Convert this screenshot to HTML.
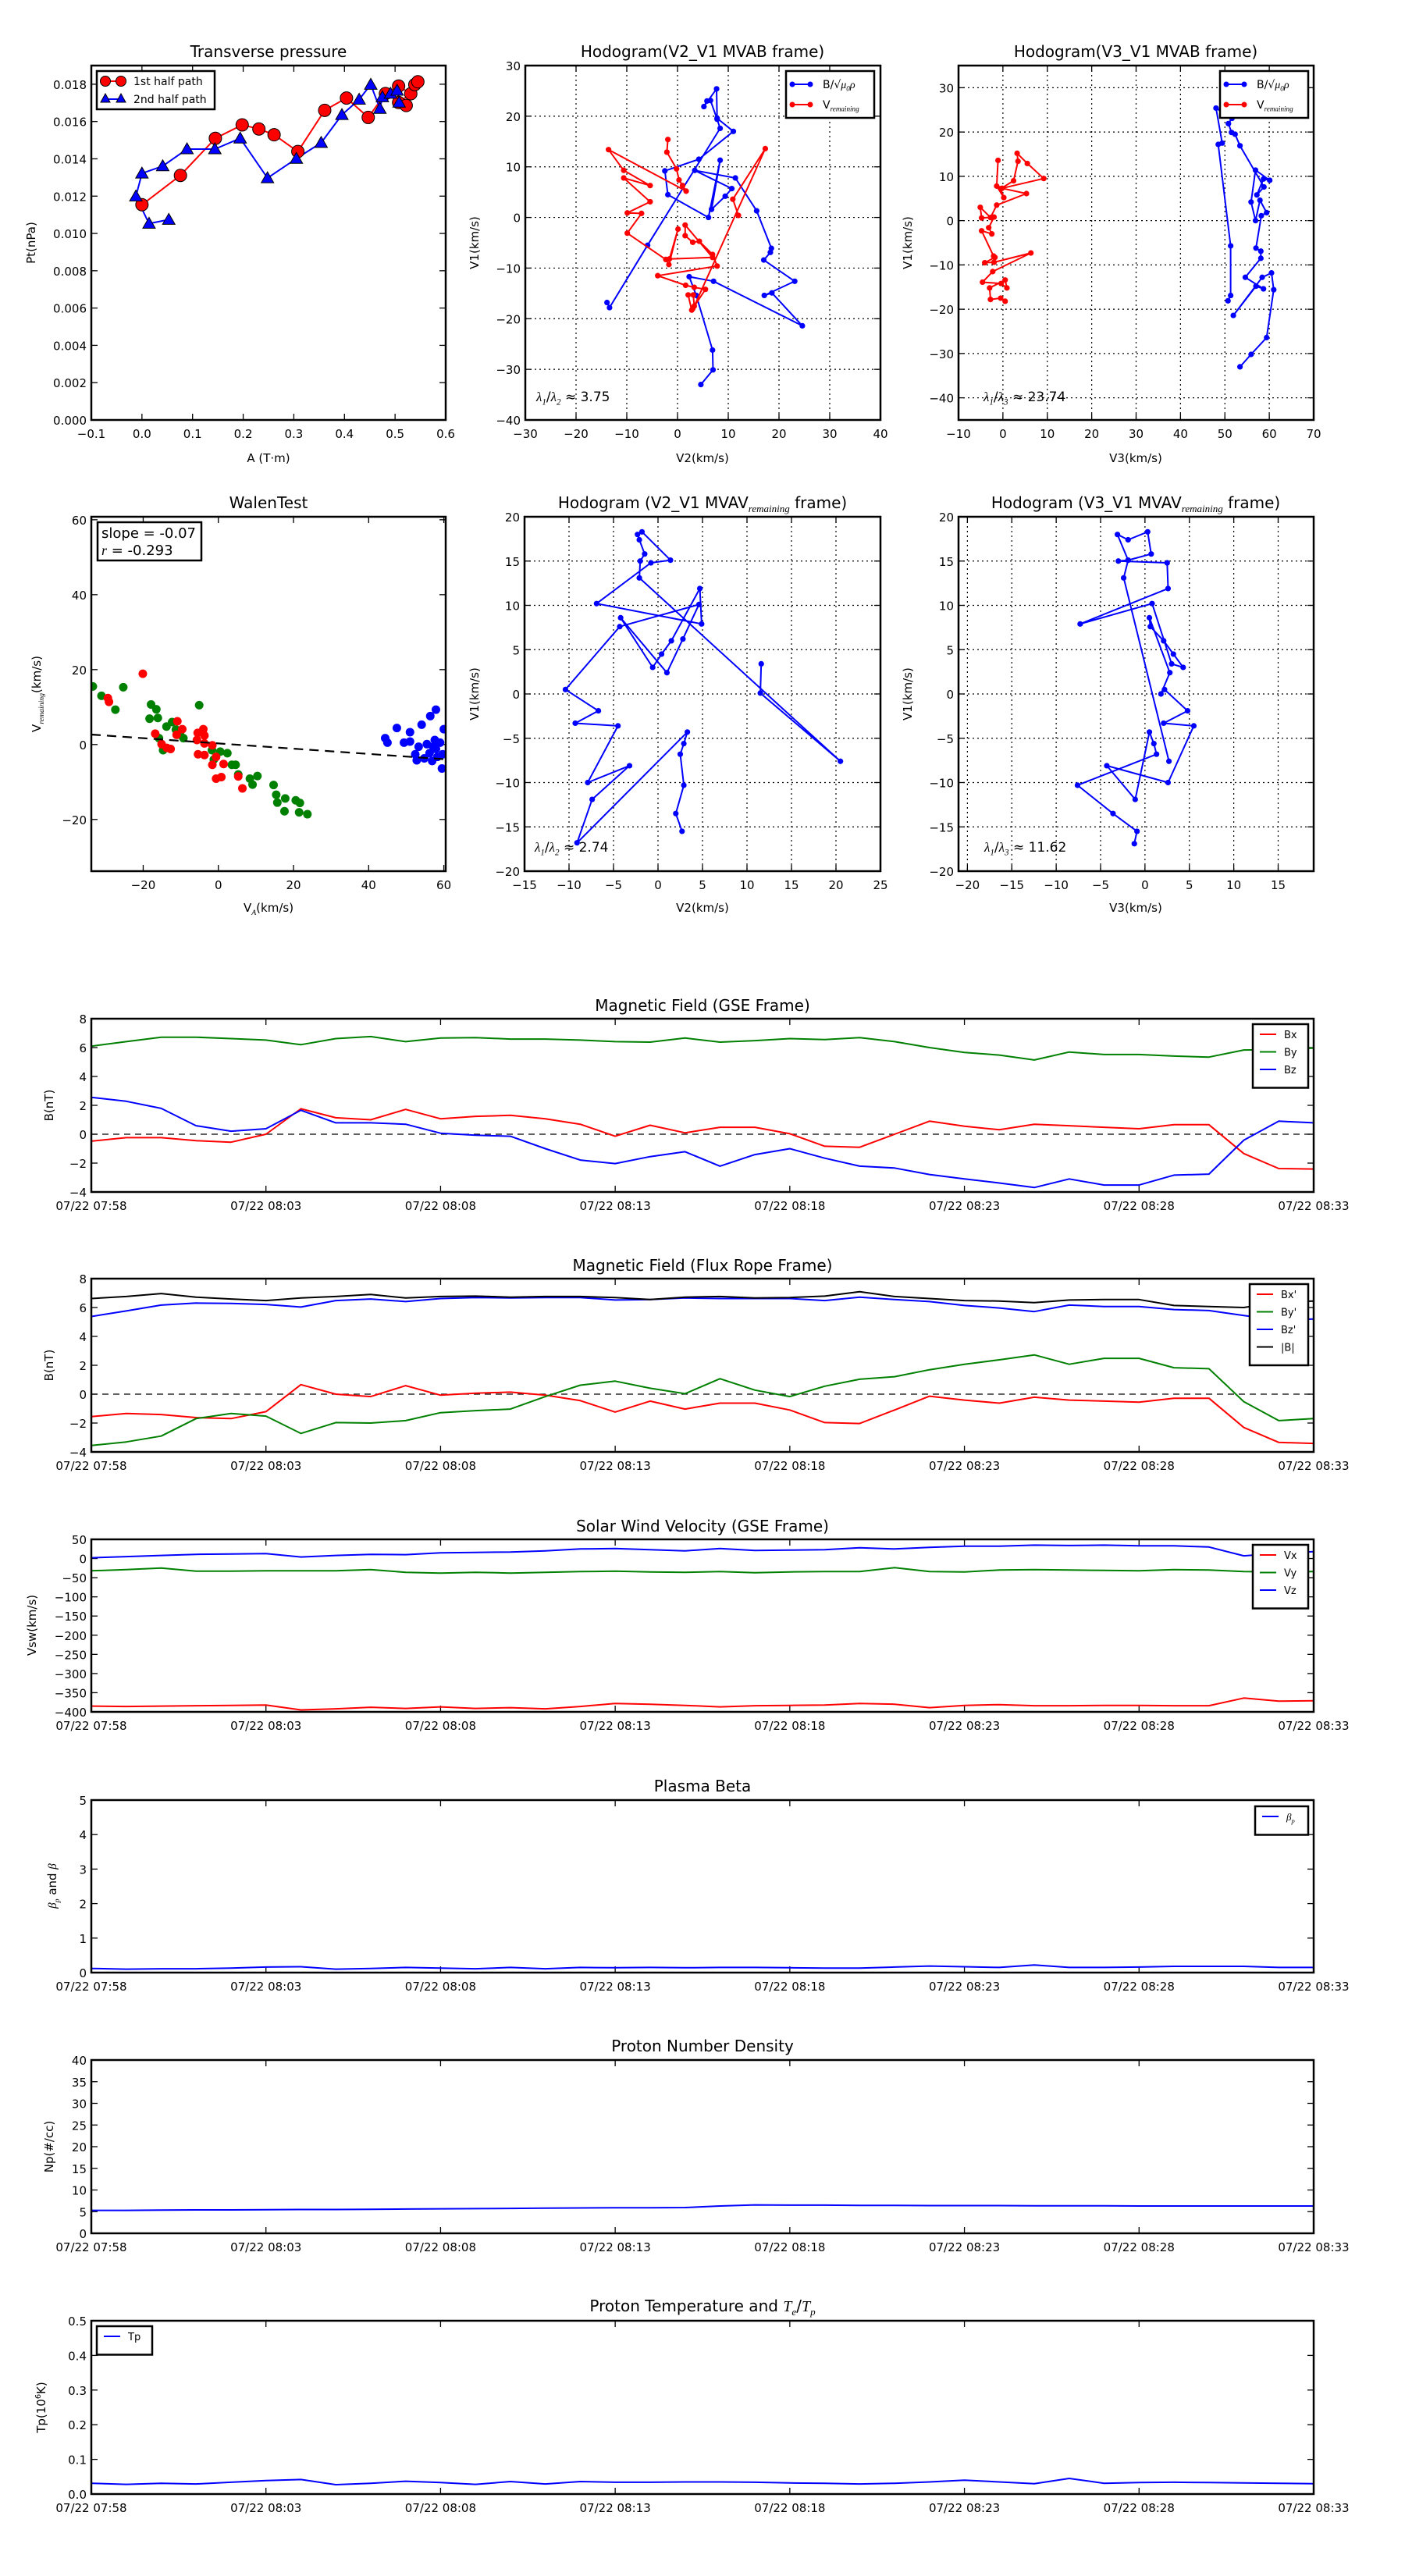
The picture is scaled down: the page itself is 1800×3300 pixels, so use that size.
<!DOCTYPE html>
<html><head><meta charset="utf-8"><style>
html,body{margin:0;padding:0;background:#fff;}
svg{display:block;font-family:"DejaVu Sans","Liberation Sans",sans-serif;}
</style></head><body>
<svg id="fig" xmlns="http://www.w3.org/2000/svg" width="1800" height="3300" viewBox="0 0 1800 3300"></svg>
<script>
// ---------- DATA ----------
const tpA1 = [0,0.076,0.145,0.198,0.231,0.261,0.308,0.361,0.404,0.447,0.481,0.507,0.531,0.507,0.522,0.539,0.545];
const tpP1 = [0.01154,0.01311,0.0151,0.01582,0.0156,0.01529,0.01439,0.0166,0.01726,0.01622,0.0175,0.0179,0.01749,0.01702,0.01686,0.01798,0.01813];
const tpA2 = [0.053,0.014,-0.012,0,0.041,0.089,0.144,0.194,0.248,0.305,0.354,0.395,0.429,0.452,0.470,0.475,0.491,0.504,0.508];
const tpP2 = [0.01074,0.01053,0.01199,0.01322,0.01361,0.01452,0.01452,0.0151,0.01297,0.01401,0.01486,0.01636,0.01718,0.01798,0.01669,0.01731,0.0175,0.01766,0.01702];

const h1BV2 = [4.6,7.0,6.9,3.7,2.3,7.1,24.6,18.6,17.1,23.1,17.0,18.3,18.5,15.6,11.4,3.4,10.7,9.4,6.7,8.4,6.1,-1.9,-2.5,4.2,11.0,7.8,7.7,5.2,5.8,6.5,7.8,8.4,-5.9,-13.4,-13.9];
const h1BV1 = [-33,-30.1,-26.2,-15.4,-11.7,-12.6,-21.4,-14.9,-15.4,-12.6,-8.4,-6.9,-6.1,1.3,7.8,9.3,5.7,4.2,1.6,11.3,0,4.5,9.2,11.5,17,19.6,25.4,21.9,23,23.1,19.4,17.6,-5.5,-17.8,-16.8];
const h1RV2 = [-1.9,-2.1,-0.2,0.3,1.0,1.7,-13.6,-10.6,-5.4,-10.6,-5.4,-9.9,-7.1,-9.9,-2.3,-1.7,0.1,-1.6,6.9,1.5,1.5,3.0,4.3,6.9,7.8,-3.9,1.6,3.3,5.5,3.0,2.8,2.1,3.1,3.3,17.3,10.9,12.0];
const h1RV1 = [15.4,12.9,9.6,7.4,6.3,5.2,13.4,9.3,6.3,7.8,3.1,0.9,0.8,-3.1,-8.3,-9.3,-2.3,-8.2,-7.9,-1.5,-3.6,-4.9,-4.7,-7.3,-9.6,-11.5,-13.4,-13.8,-14.2,-18,-18.3,-15.3,-15.3,-17.5,13.6,3.6,0.4];

const h3BV3 = [53.4,55.9,59.4,61.0,60.5,58.4,51.9,57.0,58.7,54.6,58.1,58.1,57.0,58.2,59.4,57.9,56.9,55.9,56.9,60.1,58.7,57.2,58.8,53.4,52.3,51.5,50.8,51.6,48.0,49.4,48.5,51.3,51.3,50.7];
const h3BV1 = [-33.0,-30.2,-26.4,-15.6,-11.8,-12.8,-21.4,-14.8,-15.4,-12.8,-8.5,-6.9,-6.2,1.1,1.8,4.6,0,4.2,11.4,9.1,9.4,5.8,7.6,16.9,19.5,19.9,21.9,23.1,25.4,17.5,17.2,-5.7,-16.9,-18.1];
const h3RV3 = [-1.1,-1.4,0.2,-0.5,2.4,3.4,3.2,5.5,9.2,-0.2,5.3,-1.4,-2.8,-5.1,-4.8,-2.0,-3.2,-2.5,-4.8,-2.1,-1.8,-4.1,-2.0,6.3,-2.3,-4.6,-0.4,0.9,0.5,-3.0,-2.8,-0.5,0.5];
const h3RV1 = [13.6,7.8,5.2,7.2,9.0,13.4,15.2,12.9,9.5,7.3,6.1,3.5,0.7,3.0,0.6,0.8,-1.6,-3.0,-2.3,-8.0,-8.3,-9.5,-9.4,-7.3,-11.5,-13.9,-14.2,-15.2,-13.4,-15.2,-17.8,-17.5,-18.2];

const wGx = [-33.4,-31.1,-25.3,-27.4,-17.9,-16.5,-18.3,-16.1,-5.1,-12.3,-13.8,-11.3,-10.2,-9.3,-15.8,-14.7,-1.7,0.5,2.4,-1.2,3.6,4.6,5.3,8.4,10.4,9.1,14.7,15.4,15.7,17.8,20.6,21.7,17.6,21.5,23.7];
const wGy = [15.5,13.0,15.3,9.3,10.7,9.4,6.9,7.1,10.5,6.0,4.8,4.0,2.6,1.7,1.7,-1.5,-1.5,-1.9,-2.3,-4.0,-5.4,-5.4,-8.0,-9.1,-8.4,-10.7,-10.8,-13.4,-15.5,-14.4,-14.9,-15.6,-17.8,-18.1,-18.6];
const wRx = [-20.1,-29.4,-29.1,-10.9,-9.6,-16.8,-11.1,-15.1,-13.7,-12.7,-4.0,-5.5,-3.7,-5.7,-3.7,-1.6,-5.4,-3.7,-0.6,-1.6,1.4,-0.6,0.8,5.3,6.4];
const wRy = [18.9,12.4,11.4,6.2,4.1,2.9,2.6,0.1,-0.9,-1.2,4.1,3.1,2.4,1.2,0.3,-0.2,-2.6,-2.8,-3.3,-5.4,-5.2,-9.1,-8.7,-8.5,-11.7];
const wBx = [44.4,45.0,47.5,49.4,51.0,51.0,53.3,52.4,52.8,54.1,56.4,57.9,55.5,57.6,59.0,60.0,54.8,56.9,58.3,59.5,56.2,57.9,59.7,57.2];
const wBy = [1.7,0.5,4.4,0.5,0.8,3.3,-0.6,-2.6,-4.2,5.3,7.6,9.3,0.1,1.2,0.5,4.1,-3.7,-4.4,-3.3,-6.4,-2.3,-1.2,-2.6,-0.6];
const wFitSlope = [-0.07];
const wFitIntercept = [0.3];

const h2V2 = [2.7,2.0,2.9,2.5,2.9,3.3,-9.1,-7.4,-3.2,-7.9,-4.5,-9.3,-6.7,-10.4,-4.3,4.6,2.8,1.0,-4.2,-0.6,0.4,1.5,4.7,4.9,-6.9,-0.8,1.4,-1.8,-2.3,-2.1,-1.5,-2.0,-2.1,20.5,11.5,11.6];
const h2V1 = [-15.5,-13.5,-10.3,-6.8,-5.6,-4.3,-16.8,-11.9,-8.1,-10.0,-3.6,-3.3,-1.9,0.5,7.6,10.1,6.2,2.4,8.6,3.0,4.5,6.0,11.9,7.9,10.2,14.8,15.1,18.3,18.0,17.4,15.8,15.0,13.1,-7.6,0.1,3.4];

const h4V3 = [-1.2,-0.9,-3.6,-7.6,1.3,1.0,0.5,-1.1,-4.3,2.6,5.5,2.1,4.8,2.2,1.8,2.8,0.5,0.6,2.1,3.2,4.3,3.0,0.8,-7.3,2.6,2.5,-3.0,-1.9,0.7,0.3,-1.9,-3.1,-1.9,-2.4,2.7];
const h4V1 = [-16.9,-15.5,-13.5,-10.3,-6.8,-5.6,-4.3,-11.9,-8.1,-10.0,-3.6,-3.3,-1.9,0.5,0.0,2.4,8.6,7.6,6.0,4.5,3.0,3.4,10.2,7.9,11.9,14.8,15.0,15.1,15.8,18.3,17.4,18.0,15.1,13.1,-7.6];

const minutes = [0,1,2,3,4,5,6,7,8,9,10,11,12,13,14,15,16,17,18,19,20,21,22,23,24,25,26,27,28,29,30,31,32,33,34,35];
const timeTickLabels = ["07/22 07:58","07/22 08:03","07/22 08:08","07/22 08:13","07/22 08:18","07/22 08:23","07/22 08:28","07/22 08:33"];
const gseBx = [-0.48,-0.24,-0.24,-0.45,-0.55,0.0,1.76,1.14,1.0,1.72,1.07,1.24,1.31,1.07,0.69,-0.14,0.62,0.1,0.48,0.48,0.03,-0.83,-0.9,0,0.9,0.55,0.31,0.69,0.59,0.48,0.38,0.66,0.66,-1.34,-2.38,-2.41];
const gseBy = [6.1,6.41,6.72,6.72,6.62,6.52,6.2,6.62,6.76,6.41,6.66,6.69,6.59,6.59,6.52,6.41,6.38,6.66,6.38,6.48,6.62,6.55,6.69,6.41,6.0,5.66,5.48,5.14,5.69,5.52,5.52,5.41,5.34,5.83,5.86,5.97];
const gseBz = [2.55,2.28,1.79,0.59,0.21,0.38,1.66,0.79,0.79,0.69,0.07,-0.07,-0.14,-1.0,-1.79,-2.03,-1.55,-1.21,-2.21,-1.41,-1.0,-1.66,-2.21,-2.34,-2.79,-3.1,-3.38,-3.69,-3.1,-3.52,-3.52,-2.83,-2.76,-0.41,0.9,0.79];
const frBx = [-1.55,-1.34,-1.41,-1.62,-1.69,-1.21,0.66,0,-0.17,0.59,-0.07,0.07,0.14,-0.07,-0.45,-1.24,-0.48,-1.03,-0.62,-0.62,-1.1,-1.97,-2.03,-1.1,-0.14,-0.41,-0.62,-0.21,-0.41,-0.48,-0.55,-0.28,-0.28,-2.31,-3.34,-3.41];
const frBy = [-3.55,-3.31,-2.9,-1.69,-1.34,-1.52,-2.72,-1.97,-2.0,-1.83,-1.28,-1.14,-1.03,-0.17,0.62,0.9,0.41,0.03,1.07,0.28,-0.17,0.55,1.03,1.21,1.69,2.07,2.38,2.72,2.07,2.48,2.48,1.83,1.76,-0.52,-1.83,-1.69];
const frBz = [5.38,5.76,6.17,6.31,6.28,6.21,6.03,6.48,6.59,6.41,6.62,6.69,6.66,6.69,6.69,6.52,6.55,6.66,6.62,6.62,6.62,6.48,6.72,6.55,6.41,6.14,5.97,5.72,6.17,6.07,6.07,5.86,5.79,5.45,5.14,5.2];
const frBt = [6.62,6.76,6.97,6.72,6.59,6.48,6.66,6.76,6.9,6.66,6.76,6.79,6.72,6.76,6.76,6.69,6.55,6.72,6.76,6.66,6.69,6.79,7.1,6.76,6.62,6.48,6.45,6.34,6.52,6.55,6.55,6.14,6.07,6.0,6.38,6.45];
const velVx = [-385,-386,-385,-384,-383,-382,-395,-392,-388,-391,-387,-391,-389,-392,-386,-378,-380,-383,-387,-384,-383,-382,-378,-380,-389,-383,-381,-384,-384,-383,-383,-384,-384,-364,-372,-371];
const velVy = [-32,-29,-25,-33,-33,-32,-32,-32,-29,-36,-38,-36,-38,-36,-34,-33,-35,-36,-34,-37,-35,-34,-34,-24,-34,-35,-30,-29,-30,-31,-32,-29,-30,-34,-35,-34];
const velVz = [2,5,8,11,12,13,4,8,11,10,15,16,17,20,25,26,23,20,26,21,22,23,28,25,29,32,32,35,34,35,33,33,30,7,14,18];
const betaP = [0.12,0.1,0.11,0.11,0.13,0.16,0.17,0.1,0.12,0.15,0.13,0.11,0.15,0.11,0.15,0.14,0.15,0.14,0.15,0.15,0.14,0.13,0.13,0.16,0.19,0.17,0.15,0.22,0.15,0.15,0.16,0.18,0.18,0.18,0.15,0.15];
const densNp = [5.3,5.3,5.35,5.4,5.4,5.45,5.5,5.5,5.55,5.6,5.65,5.7,5.75,5.8,5.85,5.9,5.9,5.95,6.3,6.55,6.5,6.5,6.45,6.45,6.4,6.4,6.4,6.35,6.35,6.35,6.3,6.3,6.3,6.3,6.3,6.3];
const tempTp = [0.031,0.028,0.031,0.029,0.034,0.039,0.042,0.027,0.031,0.037,0.033,0.028,0.036,0.029,0.036,0.034,0.034,0.035,0.035,0.034,0.032,0.031,0.029,0.031,0.035,0.04,0.035,0.03,0.045,0.031,0.033,0.034,0.033,0.032,0.031,0.030];

// ---------- DRAWING ----------
const NS = 'http://www.w3.org/2000/svg';
const svg = document.getElementById('fig');
let clipN = 0;
function mk(tag, attrs, name, parent) {
  const e = document.createElementNS(NS, tag);
  for (const k in attrs) e.setAttribute(k, attrs[k]);
  
  
  (parent || svg).appendChild(e);
  return e;
}
function text(x, y, s, size, anchor, name, parent, rot) {
  const t = mk('text', {x: x, y: y, 'font-size': size, 'text-anchor': anchor || 'middle', fill: '#000'}, name, parent);
  if (rot) t.setAttribute('transform', 'rotate(' + rot + ' ' + x + ' ' + y + ')');
  t.textContent = s;
  return t;
}
function rich(x, y, parts, size, anchor, name, parent, rot) {
  const t = mk('text', {x: x, y: y, 'font-size': size, 'text-anchor': anchor || 'middle', fill: '#000'}, name, parent);
  if (rot) t.setAttribute('transform', 'rotate(' + rot + ' ' + x + ' ' + y + ')');
  let shift = 0;
  parts.forEach(p => {
    const s = document.createElementNS(NS, 'tspan');
    s.textContent = p[0];
    let target = 0;
    if (p[1] === 'sub') { s.setAttribute('font-size', size * 0.65); s.setAttribute('font-style', 'italic'); s.setAttribute('font-family', 'Liberation Serif, serif'); target = size * 0.25; }
    if (p[1] === 'it') { s.setAttribute('font-style', 'italic'); s.setAttribute('font-family', 'Liberation Serif, serif'); }
    if (p[1] === 'sup') { s.setAttribute('font-size', size * 0.65); target = -size * 0.4; }
    if (target !== shift) { s.setAttribute('dy', (target - shift).toFixed(2)); shift = target; }
    t.appendChild(s);
  });
  return t;
}
function axes(o) {
  const g = mk('g', {}, o.name);
  const sx = v => o.x0 + (v - o.xmin) / (o.xmax - o.xmin) * (o.x1 - o.x0);
  const sy = v => o.y1 - (v - o.ymin) / (o.ymax - o.ymin) * (o.y1 - o.y0);
  clipN++;
  const cp = mk('clipPath', {id: 'cp' + clipN}, 'clip-region', g);
  mk('rect', {x: o.x0, y: o.y0, width: o.x1 - o.x0, height: o.y1 - o.y0}, 'clip-rect', cp);
  const grid = mk('g', {}, 'grid', g);
  const ticks = mk('g', {stroke: '#000', 'stroke-width': 1.3}, 'ticks', g);
  o.xticks.forEach((v, i) => {
    const x = sx(v);
    if (o.grid) mk('line', {x1: x, x2: x, y1: o.y0, y2: o.y1, stroke: '#000', 'stroke-width': 1.2, 'stroke-dasharray': '2,4'}, 'x-grid-line', grid);
    mk('line', {x1: x, x2: x, y1: o.y1, y2: o.y1 - 8}, 'x-tick', ticks);
    mk('line', {x1: x, x2: x, y1: o.y0, y2: o.y0 + 8}, 'x-tick', ticks);
    text(x, o.y1 + 23, o.xlab[i], 15, 'middle', 'x-tick-label', g);
  });
  o.yticks.forEach((v, i) => {
    const y = sy(v);
    if (o.grid) mk('line', {x1: o.x0, x2: o.x1, y1: y, y2: y, stroke: '#000', 'stroke-width': 1.2, 'stroke-dasharray': '2,4'}, 'y-grid-line', grid);
    mk('line', {x1: o.x0, x2: o.x0 + 8, y1: y, y2: y}, 'y-tick', ticks);
    mk('line', {x1: o.x1, x2: o.x1 - 8, y1: y, y2: y}, 'y-tick', ticks);
    text(o.x0 - 6, y + 6, o.ylab[i], 15, 'end', 'y-tick-label', g);
  });
  const plot = mk('g', {'clip-path': 'url(#cp' + clipN + ')'}, 'plot-area', g);
  return {g, sx, sy, plot, o};
}
function frame(A) {
  const o = A.o;
  mk('rect', {x: o.x0, y: o.y0, width: o.x1 - o.x0, height: o.y1 - o.y0, fill: 'none', stroke: '#000', 'stroke-width': 2.5}, 'axes-frame', A.g);
}
function polyline(A, xs, ys, color, name, w) {
  const pts = xs.map((x, i) => A.sx(x).toFixed(1) + ',' + A.sy(ys[i]).toFixed(1)).join(' ');
  return mk('polyline', {points: pts, fill: 'none', stroke: color, 'stroke-width': w || 2, 'stroke-linejoin': 'round'}, name, A.plot);
}
function dots(A, xs, ys, color, r, name, stroke) {
  xs.forEach((x, i) => {
    const c = mk('circle', {cx: A.sx(x), cy: A.sy(ys[i]), r: r, fill: color}, name, A.plot);
    if (stroke) { c.setAttribute('stroke', '#000'); c.setAttribute('stroke-width', 1); }
  });
}
function tris(A, xs, ys, color, s, name) {
  xs.forEach((x, i) => {
    const cx = A.sx(x), cy = A.sy(ys[i]);
    mk('polygon', {points: `${cx},${cy - s} ${cx - s},${cy + s * 0.75} ${cx + s},${cy + s * 0.75}`, fill: color, stroke: '#000', 'stroke-width': 1}, name, A.plot);
  });
}
function fmt(v, d) { return v < 0 ? '\u2212' + Math.abs(v).toFixed(d) : v.toFixed(d); }
function range(a, b, s) { const r = []; for (let v = a; v <= b + 1e-9; v += s) r.push(+v.toFixed(6)); return r; }
function legendBox(x, y, w, h, name) {
  const g = mk('g', {}, name);
  mk('rect', {x: x, y: y, width: w, height: h, fill: '#fff', stroke: '#000', 'stroke-width': 2.5}, 'legend-frame', g);
  return g;
}

// ---- Transverse pressure ----
{
  const xt = range(-0.1, 0.6, 0.1), yt = range(0, 0.018, 0.002);
  const A = axes({name: 'transverse-pressure-chart', x0: 117, x1: 571, y0: 84, y1: 538, xmin: -0.1, xmax: 0.6, ymin: 0, ymax: 0.019,
    xticks: xt, xlab: xt.map(v => fmt(v, 1)), yticks: yt, ylab: yt.map(v => v.toFixed(3))});
  polyline(A, tpA1, tpP1, '#f00', 'first-half-path-line');
  polyline(A, tpA2, tpP2, '#00f', 'second-half-path-line');
  dots(A, tpA1, tpP1, '#f00', 8, 'first-half-point', true);
  tris(A, tpA2, tpP2, '#00f', 8, 'second-half-point');
  frame(A);
  text(344, 73, 'Transverse pressure', 20, 'middle', 'chart-title', A.g);
  text(344, 592, 'A (T\u00b7m)', 15, 'middle', 'x-axis-title', A.g);
  text(45, 311, 'Pt(nPa)', 15, 'middle', 'y-axis-title', A.g, -90);
  const L = legendBox(124, 91, 151, 49, 'legend');
  mk('line', {x1: 135, x2: 155, y1: 104, y2: 104, stroke: '#f00', 'stroke-width': 2}, 'legend-line', L);
  mk('circle', {cx: 135, cy: 104, r: 6.5, fill: '#f00', stroke: '#000'}, 'legend-marker', L);
  mk('circle', {cx: 155, cy: 104, r: 6.5, fill: '#f00', stroke: '#000'}, 'legend-marker', L);
  text(171, 109, '1st half path', 14, 'start', 'legend-label', L);
  mk('line', {x1: 135, x2: 155, y1: 127, y2: 127, stroke: '#00f', 'stroke-width': 2}, 'legend-line', L);
  mk('polygon', {points: '135,120 129,131 141,131', fill: '#00f', stroke: '#000'}, 'legend-marker', L);
  mk('polygon', {points: '155,120 149,131 161,131', fill: '#00f', stroke: '#000'}, 'legend-marker', L);
  text(171, 132, '2nd half path', 14, 'start', 'legend-label', L);
}
function hodoLegend(x, y) {
  const L = legendBox(x, y, 113, 60, 'legend');
  mk('line', {x1: x + 8, x2: x + 31, y1: y + 17, y2: y + 17, stroke: '#00f', 'stroke-width': 2}, 'legend-line', L);
  mk('circle', {cx: x + 8, cy: y + 17, r: 3.5, fill: '#00f'}, 'legend-marker', L);
  mk('circle', {cx: x + 31, cy: y + 17, r: 3.5, fill: '#00f'}, 'legend-marker', L);
  rich(x + 47, y + 22, [['B/\u221a'], ['\u03bc', 'it'], ['0', 'sub'], ['\u03c1', 'it']], 14, 'start', 'legend-label', L);
  mk('line', {x1: x + 8, x2: x + 31, y1: y + 43, y2: y + 43, stroke: '#f00', 'stroke-width': 2}, 'legend-line', L);
  mk('circle', {cx: x + 8, cy: y + 43, r: 3.5, fill: '#f00'}, 'legend-marker', L);
  mk('circle', {cx: x + 31, cy: y + 43, r: 3.5, fill: '#f00'}, 'legend-marker', L);
  rich(x + 47, y + 48, [['V'], ['remaining', 'sub']], 14, 'start', 'legend-label', L);
}
// ---- Hodogram V2_V1 MVAB ----
{
  const xt = range(-30, 40, 10), yt = range(-40, 30, 10);
  const A = axes({name: 'hodogram-v2-v1-mvab', x0: 673, x1: 1128, y0: 84, y1: 538, xmin: -30, xmax: 40, ymin: -40, ymax: 30, grid: true,
    xticks: xt, xlab: xt.map(v => fmt(v, 0)), yticks: yt, ylab: yt.map(v => fmt(v, 0))});
  polyline(A, h1BV2, h1BV1, '#00f', 'b-alfven-line');
  dots(A, h1BV2, h1BV1, '#00f', 3.6, 'b-alfven-point');
  polyline(A, h1RV2, h1RV1, '#f00', 'v-remaining-line');
  dots(A, h1RV2, h1RV1, '#f00', 3.6, 'v-remaining-point');
  frame(A);
  hodoLegend(1007, 91);
  rich(687, 514, [['\u03bb', 'it'], ['1', 'sub'], ['/'], ['\u03bb', 'it'], ['2', 'sub'], [' \u2248 3.75']], 17, 'start', 'eigenvalue-ratio', A.g);
  text(900, 73, 'Hodogram(V2_V1 MVAB frame)', 20, 'middle', 'chart-title', A.g);
  text(900, 592, 'V2(km/s)', 15, 'middle', 'x-axis-title', A.g);
  text(613, 311, 'V1(km/s)', 15, 'middle', 'y-axis-title', A.g, -90);
}
// ---- Hodogram V3_V1 MVAB ----
{
  const xt = range(-10, 70, 10), yt = range(-40, 30, 10);
  const A = axes({name: 'hodogram-v3-v1-mvab', x0: 1228, x1: 1683, y0: 84, y1: 538, xmin: -10, xmax: 70, ymin: -45, ymax: 35, grid: true,
    xticks: xt, xlab: xt.map(v => fmt(v, 0)), yticks: yt, ylab: yt.map(v => fmt(v, 0))});
  polyline(A, h3BV3, h3BV1, '#00f', 'b-alfven-line');
  dots(A, h3BV3, h3BV1, '#00f', 3.6, 'b-alfven-point');
  polyline(A, h3RV3, h3RV1, '#f00', 'v-remaining-line');
  dots(A, h3RV3, h3RV1, '#f00', 3.6, 'v-remaining-point');
  frame(A);
  hodoLegend(1563, 91);
  rich(1260, 514, [['\u03bb', 'it'], ['1', 'sub'], ['/'], ['\u03bb', 'it'], ['3', 'sub'], [' \u2248 23.74']], 17, 'start', 'eigenvalue-ratio', A.g);
  text(1455, 73, 'Hodogram(V3_V1 MVAB frame)', 20, 'middle', 'chart-title', A.g);
  text(1455, 592, 'V3(km/s)', 15, 'middle', 'x-axis-title', A.g);
  text(1168, 311, 'V1(km/s)', 15, 'middle', 'y-axis-title', A.g, -90);
}
// ---- Walen test ----
{
  const xt = range(-20, 60, 20), yt = range(-20, 60, 20);
  const A = axes({name: 'walen-test-chart', x0: 117, x1: 571, y0: 662, y1: 1116, xmin: -33.8, xmax: 60.5, ymin: -33.8, ymax: 60.8,
    xticks: xt, xlab: xt.map(v => fmt(v, 0)), yticks: yt, ylab: yt.map(v => fmt(v, 0))});
  dots(A, wGx, wGy, '#008000', 5.5, 'walen-point-green');
  dots(A, wRx, wRy, '#f00', 5.5, 'walen-point-red');
  dots(A, wBx, wBy, '#00f', 5.5, 'walen-point-blue');
  const fx = [-33.8, 60.5];
  const fy = fx.map(x => wFitIntercept[0] + wFitSlope[0] * x);
  const fl = polyline(A, fx, fy, '#000', 'fit-line', 2.2);
  fl.setAttribute('stroke-dasharray', '12,8');
  frame(A);
  const L = legendBox(125, 669, 133, 49, 'fit-stats-box');
  text(130, 689, 'slope = -0.07', 18, 'start', 'slope-label', L);
  rich(130, 711, [['r', 'it'], [' = -0.293']], 18, 'start', 'r-label', L);
  text(344, 651, 'WalenTest', 20, 'middle', 'chart-title', A.g);
  rich(344, 1168, [['V'], ['A', 'sub'], ['(km/s)']], 15, 'middle', 'x-axis-title', A.g);
  rich(52, 889, [['V'], ['remaining', 'sub'], ['(km/s)']], 15, 'middle', 'y-axis-title', A.g, -90);
}
// ---- Hodogram V2_V1 MVAV ----
{
  const xt = range(-15, 25, 5), yt = range(-20, 20, 5);
  const A = axes({name: 'hodogram-v2-v1-mvav', x0: 672, x1: 1128, y0: 662, y1: 1116, xmin: -15, xmax: 25, ymin: -20, ymax: 20, grid: true,
    xticks: xt, xlab: xt.map(v => fmt(v, 0)), yticks: yt, ylab: yt.map(v => fmt(v, 0))});
  polyline(A, h2V2, h2V1, '#00f', 'velocity-line');
  dots(A, h2V2, h2V1, '#00f', 3.6, 'velocity-point');
  frame(A);
  rich(685, 1091, [['\u03bb', 'it'], ['1', 'sub'], ['/'], ['\u03bb', 'it'], ['2', 'sub'], [' \u2248 2.74']], 17, 'start', 'eigenvalue-ratio', A.g);
  rich(900, 651, [['Hodogram (V2_V1 MVAV'], ['remaining', 'sub'], [' frame)']], 20, 'middle', 'chart-title', A.g);
  text(900, 1168, 'V2(km/s)', 15, 'middle', 'x-axis-title', A.g);
  text(613, 889, 'V1(km/s)', 15, 'middle', 'y-axis-title', A.g, -90);
}
// ---- Hodogram V3_V1 MVAV ----
{
  const xt = range(-20, 15, 5), yt = range(-20, 20, 5);
  const A = axes({name: 'hodogram-v3-v1-mvav', x0: 1228, x1: 1683, y0: 662, y1: 1116, xmin: -21, xmax: 19, ymin: -20, ymax: 20, grid: true,
    xticks: xt, xlab: xt.map(v => fmt(v, 0)), yticks: yt, ylab: yt.map(v => fmt(v, 0))});
  polyline(A, h4V3, h4V1, '#00f', 'velocity-line');
  dots(A, h4V3, h4V1, '#00f', 3.6, 'velocity-point');
  frame(A);
  rich(1261, 1091, [['\u03bb', 'it'], ['1', 'sub'], ['/'], ['\u03bb', 'it'], ['3', 'sub'], [' \u2248 11.62']], 17, 'start', 'eigenvalue-ratio', A.g);
  rich(1455, 651, [['Hodogram (V3_V1 MVAV'], ['remaining', 'sub'], [' frame)']], 20, 'middle', 'chart-title', A.g);
  text(1455, 1168, 'V3(km/s)', 15, 'middle', 'x-axis-title', A.g);
  text(1168, 889, 'V1(km/s)', 15, 'middle', 'y-axis-title', A.g, -90);
}
// ---- Time series panels ----
function timePanel(name, y0, y1, ymin, ymax, yt, ylab) {
  const xt = [0, 5, 10, 15, 20, 25, 30, 35];
  const A = axes({name: name, x0: 117, x1: 1683, y0: y0, y1: y1, xmin: 0, xmax: 35, ymin: ymin, ymax: ymax,
    xticks: xt, xlab: timeTickLabels, yticks: yt, ylab: ylab});
  return A;
}
function tsLegend(x, y, w, labels, colors, name) {
  const L = legendBox(x, y, w, 14 + labels.length * 22.5, name);
  labels.forEach((lb, i) => {
    const yy = y + 13 + i * 22.5;
    mk('line', {x1: x + 9, x2: x + 30, y1: yy, y2: yy, stroke: colors[i], 'stroke-width': 2}, 'legend-line', L);
    if (Array.isArray(lb)) rich(x + 40, yy + 5, lb, 13, 'start', 'legend-label', L);
    else text(x + 40, yy + 5, lb, 13, 'start', 'legend-label', L);
  });
}
function zeroLine(A) {
  mk('line', {x1: 117, x2: 1683, y1: A.sy(0), y2: A.sy(0), stroke: '#000', 'stroke-width': 1.3, 'stroke-dasharray': '8,6'}, 'zero-line', A.plot);
}
{
  const yt = range(-4, 8, 2);
  const A = timePanel('magnetic-field-gse-chart', 1305, 1527, -4, 8, yt, yt.map(v => fmt(v, 0)));
  zeroLine(A);
  polyline(A, minutes, gseBx, '#f00', 'bx-line');
  polyline(A, minutes, gseBy, '#008000', 'by-line');
  polyline(A, minutes, gseBz, '#00f', 'bz-line');
  frame(A);
  tsLegend(1605, 1312, 71, ['Bx', 'By', 'Bz'], ['#f00', '#008000', '#00f'], 'legend');
  text(900, 1295, 'Magnetic Field (GSE Frame)', 20, 'middle', 'chart-title', A.g);
  text(68, 1416, 'B(nT)', 15, 'middle', 'y-axis-title', A.g, -90);
}
{
  const yt = range(-4, 8, 2);
  const A = timePanel('magnetic-field-flux-rope-chart', 1638, 1860, -4, 8, yt, yt.map(v => fmt(v, 0)));
  zeroLine(A);
  polyline(A, minutes, frBx, '#f00', 'bx-prime-line');
  polyline(A, minutes, frBy, '#008000', 'by-prime-line');
  polyline(A, minutes, frBz, '#00f', 'bz-prime-line');
  polyline(A, minutes, frBt, '#000', 'b-magnitude-line');
  frame(A);
  tsLegend(1601, 1645, 75, ["Bx'", "By'", "Bz'", '|B|'], ['#f00', '#008000', '#00f', '#000'], 'legend');
  text(900, 1628, 'Magnetic Field (Flux Rope Frame)', 20, 'middle', 'chart-title', A.g);
  text(68, 1749, 'B(nT)', 15, 'middle', 'y-axis-title', A.g, -90);
}
{
  const yt = range(-400, 50, 50);
  const A = timePanel('solar-wind-velocity-chart', 1972, 2193, -400, 50, yt, yt.map(v => fmt(v, 0)));
  polyline(A, minutes, velVx, '#f00', 'vx-line');
  polyline(A, minutes, velVy, '#008000', 'vy-line');
  polyline(A, minutes, velVz, '#00f', 'vz-line');
  frame(A);
  tsLegend(1605, 1979, 71, ['Vx', 'Vy', 'Vz'], ['#f00', '#008000', '#00f'], 'legend');
  text(900, 1962, 'Solar Wind Velocity (GSE Frame)', 20, 'middle', 'chart-title', A.g);
  text(46, 2082, 'Vsw(km/s)', 15, 'middle', 'y-axis-title', A.g, -90);
}
{
  const yt = range(0, 5, 1);
  const A = timePanel('plasma-beta-chart', 2306, 2527, 0, 5, yt, yt.map(v => fmt(v, 0)));
  polyline(A, minutes, betaP, '#00f', 'beta-p-line');
  frame(A);
  tsLegend(1608, 2314, 68, [[['\u03b2', 'it'], ['p', 'sub']]], ['#00f'], 'legend');
  text(900, 2295, 'Plasma Beta', 20, 'middle', 'chart-title', A.g);
  rich(72, 2416, [['\u03b2', 'it'], ['p', 'sub'], [' and '], ['\u03b2', 'it']], 15, 'middle', 'y-axis-title', A.g, -90);
}
{
  const yt = range(0, 40, 5);
  const A = timePanel('proton-density-chart', 2639, 2861, 0, 40, yt, yt.map(v => fmt(v, 0)));
  polyline(A, minutes, densNp, '#00f', 'density-line');
  frame(A);
  text(900, 2628, 'Proton Number Density', 20, 'middle', 'chart-title', A.g);
  text(68, 2750, 'Np(#/cc)', 15, 'middle', 'y-axis-title', A.g, -90);
}
{
  const yt = range(0, 0.5, 0.1);
  const A = timePanel('proton-temperature-chart', 2973, 3195, 0, 0.5, yt, yt.map(v => fmt(v, 1)));
  polyline(A, minutes, tempTp, '#00f', 'tp-line');
  frame(A);
  tsLegend(124, 2980, 71, ['Tp'], ['#00f'], 'legend');
  rich(900, 2961, [['Proton Temperature and '], ['T', 'it'], ['e', 'sub'], ['/'], ['T', 'it'], ['p', 'sub']], 20, 'middle', 'chart-title', A.g);
  rich(58, 3084, [['Tp(10'], ['6', 'sup'], ['K)']], 15, 'middle', 'y-axis-title', A.g, -90);
}
</script>
</body></html>
